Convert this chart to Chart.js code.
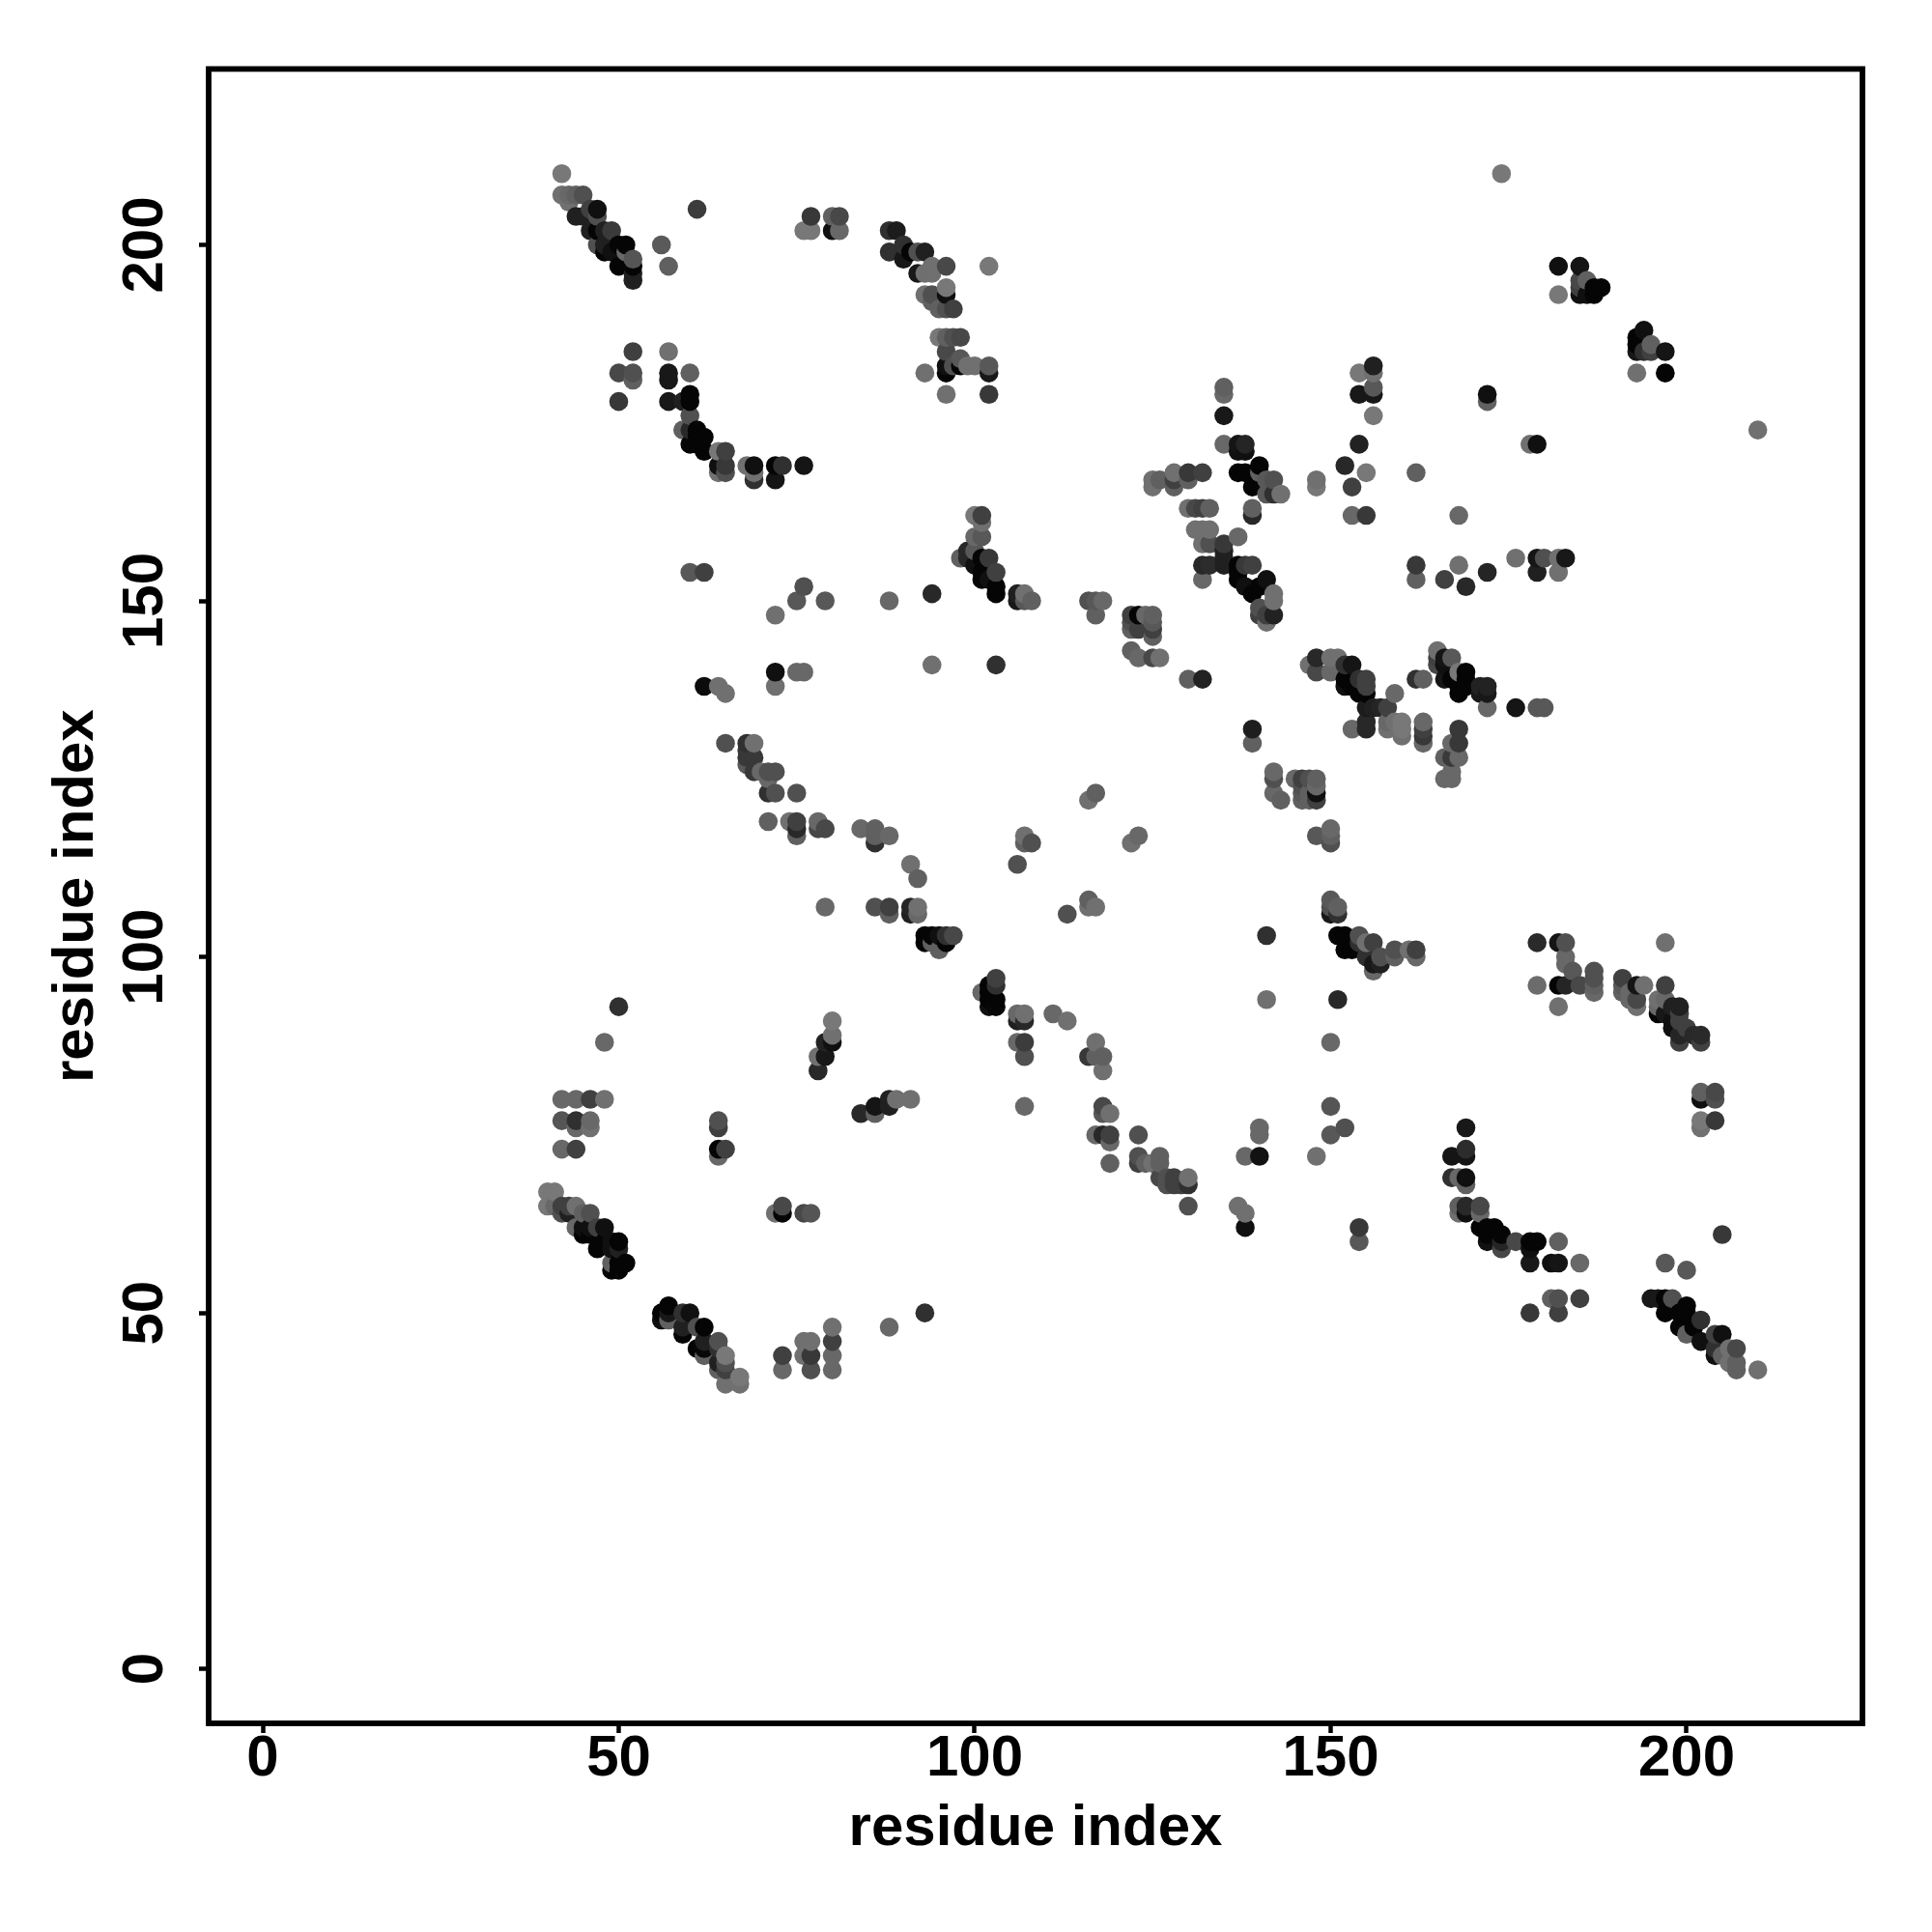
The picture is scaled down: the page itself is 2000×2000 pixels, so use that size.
<!DOCTYPE html>
<html>
<head>
<meta charset="utf-8">
<script src="https://cdn.jsdelivr.net/npm/chart.js@4/dist/chart.umd.min.js"></script>
<style>html,body{margin:0;padding:0;background:#fff}canvas{display:block}</style>
</head>
<body>
<canvas id="c" width="2000" height="2000"></canvas>
<script>
// Each entry: [residue x, residue y, gray level of the dot]
const tickValues = [0, 50, 100, 150, 200];
const axisTitle = "residue index";
const contactsTopLeft = [
[42,210,0x78],[42,207,0x70],[43,207,0x68],[43,206,0x70],[44,207,0x60],[45,207,0x50],[46,205,0x40],[47,205,0x10],[47,204,0x50],[44,204,0x20],[45,204,0x20],
[46,202,0x20],[47,202,0x05],[48,202,0x20],[49,202,0x3a],[47,200,0x50],[48,200,0x20],[50,200,0x05],[51,200,0x05],[48,199,0x05],[49,199,0x10],[51,199,0x68],[52,198,0x55],
[50,197,0x05],[52,197,0x05],[52,196,0x20],[52,195,0x20],[61,205,0x3c],[56,200,0x5a],[57,197,0x60],
[77,204,0x38],[76,202,0x78],[77,202,0x78],[80,204,0x60],[81,204,0x48],[80,202,0x10],[81,202,0x68],
[88,202,0x30],[89,202,0x1c],[88,199,0x30],[90,200,0x30],[90,198,0x18],[91,199,0x05],[92,199,0x50],[93,199,0x20],[92,196,0x18],[94,197,0x70],[94,196,0x70],[93,196,0x70],[96,197,0x48],
[93,193,0x70],[94,193,0x50],[96,194,0x78],[96,193,0x10],[94,192,0x60],[95,191,0x60],[97,191,0x40],[96,191,0x50],[102,197,0x78],
[95,187,0x78],[96,187,0x60],[97,187,0x50],[98,187,0x48],[96,185,0x48],[98,184,0x58],[99,183,0x70],[100,183,0x70],[102,183,0x58],[96,182,0x05],[102,182,0x18],[93,182,0x70],[97,183,0x50],[96,183,0x10],[98,183,0x05],[96,179,0x70],[102,179,0x38],
[52,185,0x40],[57,185,0x70],[50,182,0x48],[52,181,0x60],[52,182,0x50],[57,181,0x18],[57,182,0x18],[60,182,0x60],[50,178,0x38],[57,178,0x18],[59,178,0x20],[60,178,0x05],[60,179,0x05],[60,176,0x50],[59,174,0x60],[60,174,0x28],[61,174,0x05],[61,173,0x05],[62,173,0x05],[60,172,0x05],[61,172,0x05],[62,171,0x05],[64,171,0x78],[65,171,0x40],
[64,168,0x70],[64,169,0x10],[65,168,0x50],[65,169,0x38],[68,169,0x70],[69,167,0x30],[69,168,0x70],[69,169,0x10],[72,167,0x15],[72,169,0x05],[73,169,0x30],[76,169,0x15]
];
const contactsTopMiddle = [
[135,180,0x60],[135,179,0x68],[135,176,0x18],[135,172,0x68],[137,171,0x10],[137,172,0x15],[138,171,0x10],[138,172,0x25],[140,169,0x05],[137,168,0x05],[138,168,0x05],[140,168,0x60],[139,166,0x05],[141,165,0x58],[141,167,0x58],[142,165,0x30],[142,167,0x50],[143,165,0x70],
[148,166,0x78],[148,167,0x70],[125,166,0x70],[125,167,0x70],[126,167,0x60],[128,166,0x60],[128,167,0x40],[128,168,0x70],[130,167,0x60],[130,168,0x38],[132,168,0x40],
[154,182,0x78],[156,183,0x20],[156,182,0x70],[154,179,0x18],[156,179,0x18],[156,180,0x58],[156,176,0x78],[154,172,0x22],[152,169,0x28],[155,168,0x78],[153,166,0x40],[153,162,0x68],[155,162,0x38],
[100,162,0x78],[101,162,0x40],[101,161,0x70],[100,159,0x68],[101,159,0x58],[98,156,0x60],[99,157,0x28],[99,156,0x28],[100,157,0x58],[100,155,0x10],[101,156,0x05],[102,156,0x38],[101,154,0x05],[103,154,0x40],
[130,163,0x70],[131,163,0x48],[132,163,0x40],[133,163,0x60],[139,162,0x28],[139,163,0x60],[131,160,0x70],[132,160,0x70],[133,160,0x70],[132,158,0x70],[133,158,0x50],[137,159,0x68],[135,155,0x20],[135,156,0x20],[135,157,0x20],[135,158,0x38],[132,155,0x28],[133,155,0x2c],[137,155,0x05],[138,155,0x38],[139,155,0x40],[137,154,0x05],[141,153,0x10]
];
const contactsTopRight = [
[162,168,0x60],[168,162,0x68],[174,210,0x78],[172,178,0x60],[172,179,0x10],[178,172,0x70],[179,172,0x10],
[182,197,0x10],[185,197,0x15],[182,193,0x78],[185,193,0x10],[185,194,0x40],[185,195,0x48],[186,193,0x10],[186,195,0x60],[187,193,0x05],[187,194,0x05],[188,194,0x05],
[193,185,0x18],[193,186,0x05],[193,187,0x05],[194,185,0x30],[194,188,0x10],[195,185,0x40],[195,186,0x60],[197,185,0x15],[193,182,0x70],[197,182,0x05],[210,174,0x70],
[162,153,0x60],[162,155,0x38],[168,155,0x70],[172,154,0x25],[166,153,0x40],[169,152,0x28],[176,156,0x70],[179,154,0x20],[179,156,0x15],[180,156,0x50],[182,154,0x70],[182,156,0x70],[183,156,0x18]
];
const contactsMiddleLeft = [
[60,154,0x58],[62,154,0x40],[76,152,0x50],[75,150,0x58],[79,150,0x58],[72,148,0x70],[88,150,0x68],[94,151,0x28],[94,141,0x70],
[72,138,0x70],[72,140,0x10],[75,140,0x68],[76,140,0x68],[62,138,0x0c],[64,138,0x70],[65,137,0x70],
[65,130,0x50],[68,127,0x58],[68,128,0x38],[68,129,0x38],[68,130,0x30],[69,130,0x70],[69,126,0x38],[69,128,0x38],[70,126,0x68],[71,125,0x68],[71,126,0x50],[72,126,0x50],[71,123,0x30],[72,123,0x50],[75,123,0x50],
[71,119,0x60],[74,119,0x70],[75,117,0x60],[75,118,0x28],[75,119,0x40],[78,118,0x48],[78,119,0x68],[79,118,0x48],[84,118,0x68],[86,116,0x30],[86,117,0x60],[86,118,0x60],[88,117,0x68],
[91,113,0x70],[92,111,0x60],[79,107,0x68],[86,107,0x50],[88,106,0x60],[88,107,0x40],[91,106,0x20],[91,107,0x25],[92,106,0x68],[92,107,0x70],
[93,102,0x05],[93,103,0x05],[94,102,0x60],[94,103,0x05],[95,101,0x60],[95,103,0x10],[96,102,0x05],[96,103,0x30],[97,103,0x48]
];
const contactsCenter = [
[103,152,0x05],[103,151,0x05],[101,153,0x05],[102,153,0x10],[106,150,0x18],[106,151,0x20],[107,151,0x70],[107,150,0x58],[108,150,0x60],
[116,150,0x50],[117,150,0x58],[118,150,0x68],[117,148,0x60],
[122,147,0x50],[122,148,0x40],[123,148,0x05],[124,148,0x68],[125,148,0x60],[122,146,0x60],[123,146,0x40],[125,145,0x60],[125,146,0x40],[125,147,0x58],[122,143,0x60],[123,142,0x68],[125,142,0x48],[126,142,0x70],
[130,139,0x60],[132,139,0x22],[103,141,0x30],
[132,153,0x68],[138,152,0x10],[137,153,0x05],[139,151,0x05],[140,152,0x05],[142,151,0x70],[142,150,0x70],[140,149,0x50],[140,148,0x40],[142,148,0x22],[141,147,0x70],[141,148,0x40],
[147,141,0x70],[148,142,0x28],[148,140,0x48],[150,140,0x68],[150,142,0x70],[151,142,0x70],[152,141,0x30],[153,141,0x15],[152,139,0x05],[152,138,0x10],[153,138,0x05],[154,137,0x05],[155,137,0x05],[154,139,0x30],[155,139,0x40],[155,138,0x40],[155,135,0x1c],[153,132,0x68],[155,133,0x28],[155,132,0x28],
[106,113,0x50],[107,116,0x60],[107,117,0x70],[108,116,0x50],[122,116,0x70],[123,117,0x68],[116,122,0x70],[117,123,0x60],[113,106,0x50],[116,107,0x70],[116,108,0x60],[117,107,0x70],
[139,130,0x60],[139,132,0x1e],[142,125,0x50],[142,126,0x68],[142,123,0x68],[143,122,0x60],
[145,125,0x68],[146,122,0x60],[146,123,0x58],[146,124,0x50],[146,125,0x40],[147,122,0x60],[147,123,0x60],[147,125,0x50],[148,122,0x40],[148,123,0x10],[148,124,0x68],[148,125,0x60],
[148,117,0x58],[150,116,0x50],[150,117,0x60],[150,118,0x68],[141,103,0x30],
[150,106,0x18],[150,107,0x50],[150,108,0x58],[151,106,0x30],[151,107,0x60],[151,103,0x05],[152,103,0x05],[152,101,0x05],[153,101,0x05],[153,102,0x05],[154,102,0x30],[154,103,0x50]
];
const contactsMiddleRight = [
[156,135,0x20],[157,135,0x25],[158,135,0x40],[159,137,0x68],
[158,132,0x70],[158,133,0x68],[159,133,0x70],[160,131,0x70],[160,132,0x78],[160,133,0x78],[163,130,0x68],[163,131,0x38],[163,132,0x40],[163,133,0x68],[162,139,0x30],[163,139,0x60],
[165,141,0x48],[165,142,0x40],[165,143,0x70],[166,139,0x15],[166,141,0x10],[166,142,0x15],[167,139,0x05],[167,142,0x58],[168,137,0x05],[168,138,0x05],[168,140,0x78],[169,138,0x05],[169,139,0x05],[169,140,0x05],[171,137,0x18],[171,138,0x22],[172,135,0x68],[172,137,0x18],[172,138,0x22],[176,135,0x15],[179,135,0x58],[180,135,0x58],
[168,132,0x38],[167,130,0x68],[168,130,0x38],[166,128,0x60],[167,128,0x3a],[168,128,0x68],[167,126,0x68],[166,125,0x68],[167,125,0x68],
[155,100,0x30],[155,102,0x70],[156,98,0x68],[156,99,0x18],[156,102,0x40],[157,99,0x20],[157,100,0x50],[159,100,0x60],[159,101,0x50],[161,101,0x70],[162,100,0x68],[162,101,0x40],
[179,102,0x2a],[182,102,0x15],[183,102,0x50],[183,99,0x68],[183,100,0x68],[184,98,0x58],[187,97,0x50],[187,98,0x50],[191,97,0x40],[197,102,0x70]
];
const contactsBottomLeft = [
[50,93,0x30],[48,88,0x68],[42,80,0x68],[44,80,0x68],[46,80,0x40],[48,80,0x70],[42,77,0x55],[44,76,0x68],[44,77,0x30],[46,76,0x70],[46,77,0x68],[42,73,0x68],[44,73,0x40],
[80,91,0x78],[80,89,0x70],[79,88,0x22],[80,88,0x10],[78,86,0x70],[79,86,0x18],[78,84,0x28],
[84,78,0x28],[86,78,0x60],[86,79,0x15],[88,79,0x20],[88,80,0x20],[89,80,0x70],[91,80,0x70],
[64,76,0x40],[64,77,0x50],[64,72,0x68],[64,73,0x05],[65,73,0x40],[72,64,0x70],[73,64,0x05],[73,65,0x48],[76,64,0x48],[77,64,0x55],
[40,65,0x78],[40,67,0x78],[41,65,0x68],[41,67,0x78],[42,64,0x50],[42,65,0x40],[43,64,0x20],[43,65,0x40],[44,62,0x68],[44,65,0x70],[45,61,0x05],[45,62,0x10],[45,64,0x60],[46,61,0x05],[46,62,0x10],[46,64,0x50],[47,59,0x05],[47,62,0x40],[48,60,0x05],[48,62,0x10],[49,57,0x60],[49,56,0x05],[49,59,0x10],[49,60,0x10],[50,56,0x05],[50,57,0x05],[50,59,0x20],[50,60,0x05],[51,57,0x05],
[56,49,0x10],[56,50,0x05],[57,49,0x60],[57,50,0x18],[57,51,0x05],[59,47,0x05],[59,48,0x20],[59,50,0x30],[60,50,0x10],[61,45,0x05],[61,48,0x50],[62,44,0x60],[62,45,0x08],[62,46,0x20],[62,48,0x05],
[64,42,0x60],[64,43,0x20],[64,45,0x30],[64,46,0x50],[65,40,0x70],[65,42,0x40],[65,43,0x50],[65,44,0x78],[67,40,0x70],[67,41,0x78],
[73,42,0x68],[73,44,0x40],[76,44,0x70],[76,46,0x70],[77,42,0x50],[77,44,0x38],[77,46,0x70],[80,42,0x68],[80,44,0x68],[80,46,0x40],[80,48,0x70],[88,48,0x68],[93,50,0x30]
];
const contactsBottomMiddle = [
[103,97,0x40],[101,95,0x68],[102,96,0x05],[103,96,0x30],[102,95,0x05],[102,94,0x05],[103,94,0x05],[102,93,0x10],[103,93,0x08],
[106,91,0x20],[106,92,0x68],[107,91,0x28],[107,92,0x70],[106,88,0x68],[107,88,0x3c],[107,86,0x50],[107,79,0x68],[111,92,0x68],[113,91,0x70],
[116,86,0x38],[117,86,0x60],[117,88,0x70],[118,86,0x60],[118,84,0x70],[118,78,0x58],[118,79,0x48],[119,78,0x70],
[117,75,0x68],[118,75,0x28],[119,74,0x68],[119,75,0x40],[119,71,0x60],[123,75,0x50],[123,71,0x40],[123,72,0x50],[124,71,0x60],[125,71,0x70],[126,71,0x60],[126,72,0x60],
[126,69,0x48],[127,68,0x50],[127,69,0x50],[128,68,0x40],[128,69,0x40],[129,68,0x40],[130,68,0x30],[130,69,0x70],[130,65,0x50],
[137,65,0x70],[138,62,0x10],[138,64,0x70],[140,75,0x68],[140,76,0x68],[138,72,0x68],[140,72,0x12],
[141,94,0x70],[151,94,0x28],[150,88,0x68],[150,79,0x55],[152,76,0x50],[150,75,0x58],[148,72,0x70],[154,60,0x58],[154,62,0x38]
];
const contactsBottomRight = [
[179,96,0x6c],[182,93,0x70],[182,96,0x05],[183,96,0x25],[185,96,0x48],[187,96,0x60],[187,95,0x68],[191,96,0x58],[191,95,0x60],[192,95,0x68],[192,94,0x68],[193,96,0x15],[194,96,0x70],[193,93,0x70],[193,94,0x48],[197,96,0x40],
[196,94,0x70],[197,94,0x68],[196,93,0x68],[196,92,0x05],[197,92,0x18],[198,93,0x20],[199,93,0x20],[198,91,0x10],[199,92,0x40],[198,90,0x10],[199,91,0x40],[200,90,0x40],[199,88,0x40],[199,89,0x25],[201,89,0x28],[202,88,0x40],[202,89,0x2a],
[202,80,0x10],[202,81,0x60],[204,80,0x50],[204,81,0x48],[202,76,0x70],[202,77,0x78],[204,77,0x38],
[169,76,0x18],[169,72,0x15],[169,73,0x2c],[167,72,0x15],[167,69,0x30],[168,69,0x68],[169,68,0x60],[169,69,0x10],
[168,64,0x70],[168,65,0x60],[169,64,0x10],[169,65,0x28],[171,64,0x68],[171,65,0x48],
[171,62,0x05],[172,60,0x10],[172,61,0x05],[172,62,0x05],[173,62,0x05],[174,59,0x48],[174,60,0x25],[174,61,0x05],[176,60,0x48],[178,59,0x10],[178,60,0x05],[179,60,0x05],[182,60,0x60],
[178,57,0x18],[181,57,0x10],[182,57,0x15],[185,57,0x68],[181,52,0x60],[182,50,0x40],[182,52,0x50],[185,52,0x40],[178,50,0x38],
[205,61,0x38],[197,57,0x58],[200,56,0x58],
[195,52,0x18],[196,52,0x18],[197,50,0x05],[197,52,0x05],[198,52,0x50],[199,48,0x05],[199,50,0x05],[200,47,0x60],[200,50,0x05],[200,51,0x05],[201,48,0x05],[202,46,0x10],[202,49,0x30],[204,44,0x10],[204,45,0x30],[204,47,0x40],[205,44,0x60],[205,47,0x10],[206,43,0x70],[206,45,0x70],[207,42,0x60],[207,43,0x60],[207,45,0x48],[210,42,0x70]
];

const contacts = [contactsTopLeft, contactsTopMiddle, contactsTopRight, contactsMiddleLeft, contactsCenter,
  contactsMiddleRight, contactsBottomLeft, contactsBottomMiddle, contactsBottomRight]
  .flat().sort((a, b) => a[0] - b[0] || a[1] - b[1]);

const plotBox = {
  id: 'plotBox',
  afterDatasetsDraw(chart) {
    const a = chart.chartArea, ctx = chart.ctx;
    ctx.save();
    ctx.strokeStyle = '#000';
    ctx.lineWidth = 5.8;
    ctx.lineJoin = 'miter';
    ctx.strokeRect(a.left, a.top, a.right - a.left, a.bottom - a.top);
    ctx.restore();
  }
};
const font = { family: '"Liberation Sans"', weight: 'bold', size: 60 };
const setTicks = s => { s.ticks = tickValues.map(v => ({ value: v })); };
new Chart(document.getElementById('c'), {
  type: 'scatter',
  plugins: [plotBox],
  data: { datasets: [{
    data: contacts.map(c => ({ x: c[0], y: c[1] })),
    pointRadius: 9.8,
    pointBorderWidth: 0,
    pointBackgroundColor: contacts.map(c => `rgb(${c[2]},${c[2]},${c[2]})`)
  }] },
  options: {
    responsive: false,
    animation: false,
    layout: { padding: { top: 71.4, right: 72, left: 0, bottom: 0 } },
    plugins: { legend: { display: false }, tooltip: { enabled: false } },
    scales: {
      x: {
        type: 'linear', position: 'bottom', min: -7.6, max: 224.7,
        afterBuildTicks: setTicks,
        afterFit: s => { s.height = 216; },
        grid: { drawOnChartArea: false, tickLength: 10, tickWidth: 4.5, tickColor: '#000' },
        border: { display: false },
        ticks: { color: '#000', font, padding: -9, maxRotation: 0, autoSkip: false },
        title: { display: true, text: axisTitle, color: '#000', font, padding: { top: 0, bottom: 71 } }
      },
      y: {
        type: 'linear', position: 'left', min: -7.64, max: 224.7,
        afterBuildTicks: setTicks,
        afterFit: s => { s.width = 216; },
        grid: { drawOnChartArea: false, tickLength: 10, tickWidth: 4.5, tickColor: '#000' },
        border: { display: false },
        ticks: { color: '#000', font, padding: 4, minRotation: 90, maxRotation: 90, crossAlign: 'center', autoSkip: false },
        title: { display: true, text: axisTitle, color: '#000', font, padding: { top: 43, bottom: 0 } }
      }
    }
  }
});
</script>
</body>
</html>
